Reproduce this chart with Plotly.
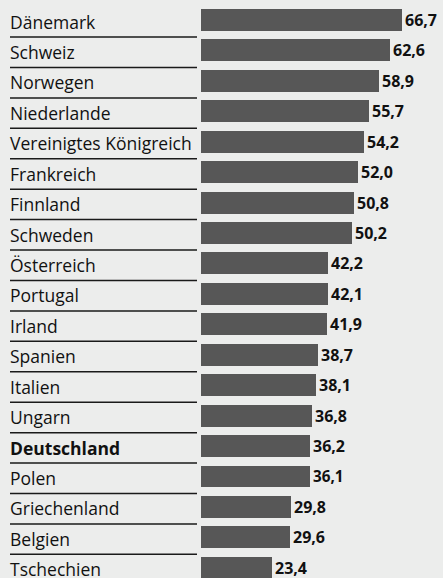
import plotly.graph_objects as go

countries = ["Dänemark", "Schweiz", "Norwegen", "Niederlande", "Vereinigtes Königreich",
             "Frankreich", "Finnland", "Schweden", "Österreich", "Portugal", "Irland",
             "Spanien", "Italien", "Ungarn", "Deutschland", "Polen", "Griechenland",
             "Belgien", "Tschechien"]
values = [66.7, 62.6, 58.9, 55.7, 54.2, 52.0, 50.8, 50.2, 42.2, 42.1, 41.9,
          38.7, 38.1, 36.8, 36.2, 36.1, 29.8, 29.6, 23.4]
highlight = "Deutschland"

W, H = 443, 578
BG = "#ecedec"
BAR = "#575757"
FONT = "Open Sans"

n = len(countries)
idx = list(range(n))
value_text = [f"{v:.1f}".replace(".", ",") for v in values]

fig = go.Figure()
fig.add_trace(go.Bar(
    x=values, y=idx, orientation="h",
    marker=dict(color=BAR, line=dict(width=0)),
    width=0.72,
    text=value_text, textposition="outside",
    textfont=dict(family=FONT, size=16, color="#111111", weight="bold"),
    cliponaxis=False, hoverinfo="skip",
))

pitch = 30.43
r0 = -20 / pitch
r1 = r0 + H / pitch

annotations = []
for i, c in enumerate(countries):
    label = f"<b>{c}</b>" if c == highlight else c
    annotations.append(dict(
        xref="paper", yref="y", x=8 / W, y=i + 0.05, text=label,
        xanchor="left", yanchor="middle", showarrow=False,
        font=dict(family=FONT, size=17.5, color="#111111"),
    ))

shapes = []
for i in range(n - 1):
    shapes.append(dict(
        type="line", xref="paper", yref="y",
        x0=10 / W, x1=197 / W, y0=i + 0.56, y1=i + 0.56,
        line=dict(color="#1a1a1a", width=1.5),
    ))

fig.update_layout(
    width=W, height=H,
    margin=dict(l=0, r=0, t=0, b=0),
    paper_bgcolor=BG, plot_bgcolor=BG,
    showlegend=False,
    xaxis=dict(domain=[201 / W, 1], range=[0, (W - 201) / 3.015],
               visible=False, fixedrange=True),
    yaxis=dict(range=[r1, r0], visible=False, fixedrange=True),
    annotations=annotations, shapes=shapes,
    bargap=0,
)

fig.write_html("out.html", config={"displayModeBar": False},
               post_script="document.body.style.margin='0';document.body.style.padding='0';document.body.style.background='#ecedec';")
